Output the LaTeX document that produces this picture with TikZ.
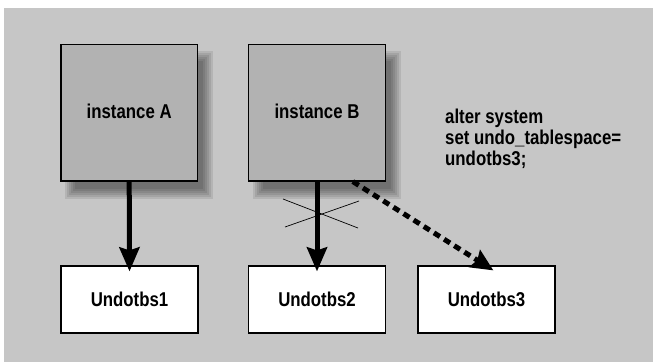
\documentclass[tikz,border=0pt]{standalone}
\usepackage{fontspec}
\setmainfont{Liberation Sans}[FakeStretch=0.84]
\usetikzlibrary{arrows.meta,calc}
\definecolor{bggrey}{RGB}{198,198,198}
\definecolor{boxgrey}{RGB}{178,178,178}
\pgfdeclarelayer{bg}
\pgfsetlayers{bg,main}
\tikzset{
  lbl/.style={font=\fontsize{20}{21}\selectfont\bfseries},
  instbox/.style={draw=black, line width=1.2pt, fill=boxgrey, minimum width=136.5pt, minimum height=136.7pt, inner sep=0pt, lbl},
  undobox/.style={draw=black, line width=1.2pt, fill=white, minimum width=137pt, minimum height=67pt, inner sep=0pt, lbl},
  thickarrow/.style={line width=5pt, -{Stealth[length=24pt,width=20pt,inset=3pt]}, shorten >=-6pt},
  dasharrow/.style={line width=5pt, dash pattern=on 7pt off 5pt, -{Stealth[length=22pt,width=20pt,inset=3pt]}},
  crossline/.style={line width=0.7pt}
}
\begin{document}
\begin{tikzpicture}[x=1pt,y=-1pt]
\useasboundingbox (0,0) rectangle (653,362);
\node[instbox] (A) at (129.2,112.6) {\raisebox{3pt}{instance A}};
\node[instbox] (B) at (317,112.6) {\raisebox{3pt}{instance B}};
\node[undobox] (U1) at (129.5,299.5) {Undotbs1};
\node[undobox] (U2) at (317,299.5) {Undotbs2};
\node[undobox] (U3) at (486.5,299.5) {Undotbs3};
\begin{pgfonlayer}{bg}
  \fill[white] (0,0) rectangle (653,362);
  \fill[bggrey] (4,8) rectangle (653,362);
  \foreach \n in {A,B}{
    \foreach \r in {5,3,1,-1,-3,-5}{
      \fill[black,opacity=0.085] ($(\n.north west)+(10-\r,12-\r)$) rectangle ($(\n.south east)+(10+\r,12+\r)$);
    }
  }
\end{pgfonlayer}
\draw[thickarrow] (A.south) -- (U1.north);
\draw[thickarrow] (B.south) -- (U2.north);
\coordinate (ds) at ($(B.south west)!0.76!(B.south east)$);
\coordinate (de) at ($(U3.north west)+(76,5)$);
\draw[dasharrow] (ds) -- (de);
\coordinate (c1) at (283,199);
\coordinate (c2) at (358,228);
\coordinate (c3) at (285,227);
\coordinate (c4) at (359,201);
\draw[crossline] (c1) -- (c2);
\draw[crossline] (c3) -- (c4);
\node[lbl, anchor=base west, align=left, inner sep=0pt] (cmd) at (445,165) {alter system\\set undo\_tablespace=\\undotbs3;};
\end{tikzpicture}
\end{document}
